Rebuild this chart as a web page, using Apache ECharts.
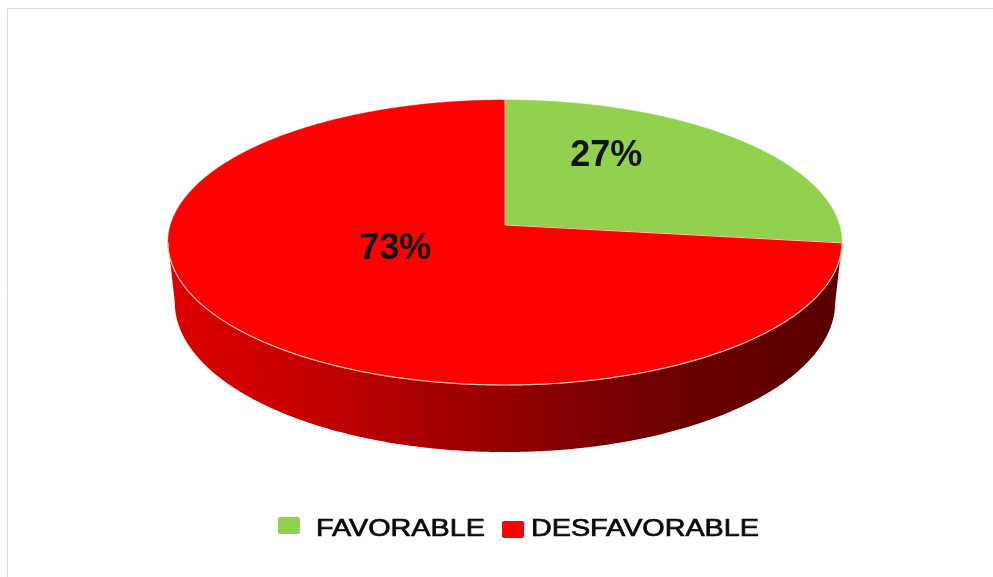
<!DOCTYPE html>
<html>
<head>
<meta charset="utf-8">
<script src="https://cdn.jsdelivr.net/npm/echarts@6/dist/echarts.min.js"></script>
<style>
  html, body { margin: 0; padding: 0; background: #ffffff; }
  #chart { width: 993px; height: 577px; }
</style>
</head>
<body>
<div id="chart"></div>
<script>
// Survey result shares
const categories = ['FAVORABLE', 'DESFAVORABLE'];
const values = [27, 73];
const sliceColors = ['#92d050', '#ff0000'];

// Tilted disc seen in perspective: centre, horizontal/vertical radii, perspective factor, thickness
const disc = { cx: 505, cy: 225, k: 334.4, m: 140.35, p: 0.1228, depth: 58.8, bottomScale: 0.98 };
const edgeColor = '#ffc9ad';

const total = values.reduce((a, b) => a + b, 0);

// Angle measured clockwise from 12 o'clock, r in [0,1] of the disc radius
function project(theta, r, bottom) {
  const u = r * Math.sin(theta);
  const v = r * Math.cos(theta);
  const w = 1 + disc.p * v;
  const sx = bottom ? disc.bottomScale : 1;
  return [
    disc.cx + disc.k * sx * u / w,
    disc.cy - disc.m * v / w + (bottom ? disc.depth / w : 0)
  ];
}

function sliceAngles(i) {
  let s = 0;
  for (let j = 0; j < i; j++) s += values[j];
  return [s / total * 2 * Math.PI, (s + values[i]) / total * 2 * Math.PI];
}

function arcPoints(a0, a1, bottom) {
  const n = Math.max(2, Math.ceil((a1 - a0) / (Math.PI / 360)));
  const pts = [];
  for (let i = 0; i <= n; i++) pts.push(project(a0 + (a1 - a0) * i / n, 1, bottom));
  return pts;
}

// The outer wall is visible between the two horizontal extremes of the rim
const sideFrom = Math.acos(-disc.p);
const sideTo = 2 * Math.PI - sideFrom;

function shade(hex, f) {
  const n = parseInt(hex.slice(1), 16);
  const r = (n >> 16) & 255, g = (n >> 8) & 255, b = n & 255;
  return 'rgb(' + Math.round(r * f) + ',' + Math.round(g * f) + ',' + Math.round(b * f) + ')';
}

function wallGradient(color) {
  return {
    type: 'linear', global: true,
    x: disc.cx - disc.k, y: 0, x2: disc.cx + disc.k, y2: 0,
    colorStops: [
      { offset: 0, color: shade(color, 0.87) },
      { offset: 0.25, color: shade(color, 0.75) },
      { offset: 0.5, color: shade(color, 0.58) },
      { offset: 0.72, color: shade(color, 0.44) },
      { offset: 1, color: shade(color, 0.35) }
    ]
  };
}

function renderWall(params, api) {
  const i = params.dataIndex;
  const [a0, a1] = sliceAngles(i);
  const s = Math.max(a0, sideFrom), e = Math.min(a1, sideTo);
  if (e <= s) return { type: 'group', children: [] };
  const top = arcPoints(s, e, false);
  const bot = arcPoints(s, e, true).reverse();
  return {
    type: 'polygon',
    shape: { points: top.concat(bot) },
    style: { fill: wallGradient(api.visual('color')) }
  };
}

function renderTop(params, api) {
  const i = params.dataIndex;
  const [a0, a1] = sliceAngles(i);
  const center = project(0, 0, false);
  const rim = arcPoints(a0, a1, false);
  const children = [
    {
      type: 'polygon',
      shape: { points: [center].concat(rim) },
      style: { fill: api.visual('color'), stroke: api.visual('color'), lineWidth: 0.5 }
    },
    {
      type: 'line',
      z2: 5,
      shape: { x1: center[0], y1: center[1], x2: rim[0][0], y2: rim[0][1] },
      style: { stroke: edgeColor, lineWidth: 1 }
    }
  ];
  const s = Math.max(a0, sideFrom), e = Math.min(a1, sideTo);
  if (e > s) {
    children.push({
      type: 'polyline',
      z2: 5,
      shape: { points: arcPoints(s, e, false) },
      style: { stroke: edgeColor, lineWidth: 1.2, fill: null }
    });
  }
  const mid = (a0 + a1) / 2;
  const lp = project(mid, 0.5, false);
  children.push({
    type: 'text',
    z2: 10,
    x: disc.cx + (lp[0] - disc.cx) * 0.84,
    y: lp[1] - 24,
    style: {
      text: Math.round(api.value(0) / total * 100) + '%',
      fill: '#121212',
      font: 'bold 36px "Liberation Sans", Arial, sans-serif',
      align: 'center',
      verticalAlign: 'middle'
    }
  });
  return { type: 'group', children: children };
}

const seriesData = values.map((v, i) => ({
  value: v,
  name: categories[i],
  itemStyle: { color: sliceColors[i] }
}));

// Legend boxes and labels
const legendLayout = [
  { boxX: 278, boxY: 517, textX: 316 },
  { boxX: 502, boxY: 521, textX: 531 }
];
const legendGraphics = [];
categories.forEach((name, i) => {
  const l = legendLayout[i];
  legendGraphics.push({
    type: 'rect',
    shape: { x: l.boxX, y: l.boxY, width: 22, height: 17, r: 2 },
    style: { fill: sliceColors[i] }
  });
  legendGraphics.push({
    type: 'text',
    x: l.textX,
    y: 529.5,
    scaleX: 1.25,
    style: {
      text: name,
      fill: '#0a0a0a',
      stroke: '#0a0a0a',
      lineWidth: 0.7,
      font: '23px "Liberation Sans", Arial, sans-serif',
      align: 'left',
      verticalAlign: 'middle'
    }
  });
});

const chart = echarts.init(document.getElementById('chart'), null, { renderer: 'canvas' });
chart.setOption({
  backgroundColor: '#ffffff',
  animation: false,
  graphic: [
    {
      type: 'rect',
      shape: { x: 7.5, y: 8.5, width: 1100, height: 700 },
      style: { fill: null, stroke: '#d9d9d9', lineWidth: 1 }
    }
  ].concat(legendGraphics),
  series: [
    {
      type: 'custom',
      name: 'wall',
      coordinateSystem: 'none',
      silent: true,
      z: 1,
      renderItem: renderWall,
      data: seriesData
    },
    {
      type: 'custom',
      name: 'top',
      coordinateSystem: 'none',
      silent: true,
      z: 2,
      renderItem: renderTop,
      data: seriesData
    }
  ]
});
</script>
</body>
</html>
